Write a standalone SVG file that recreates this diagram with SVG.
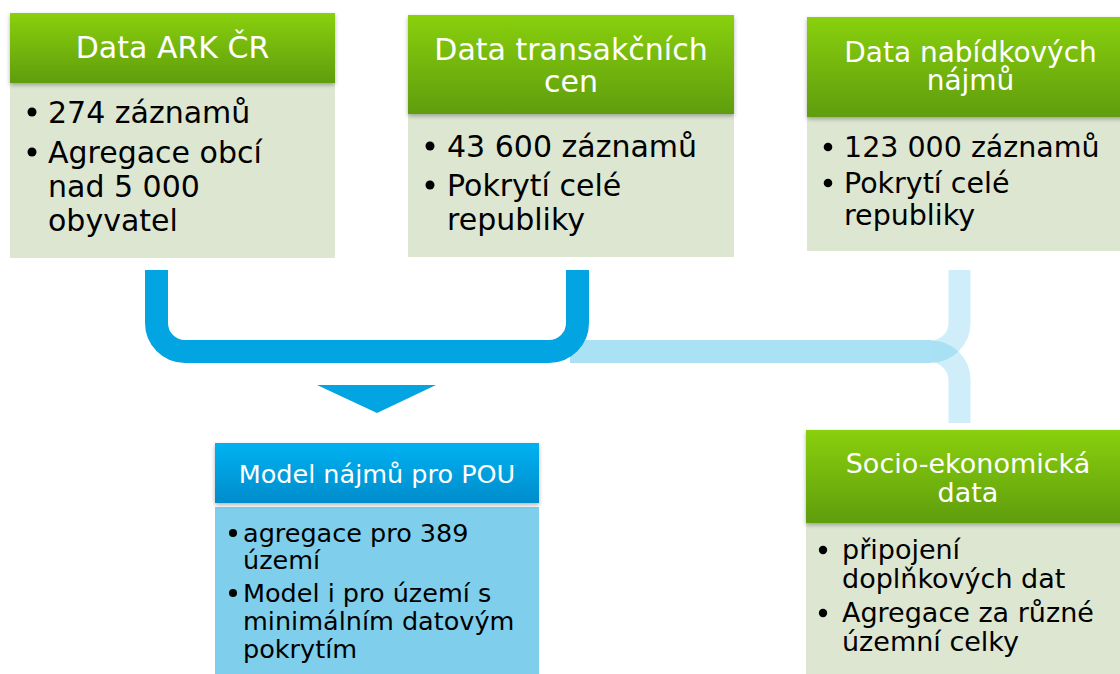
<svg xmlns="http://www.w3.org/2000/svg" width="1120" height="674" viewBox="0 0 1120 674">
<defs>
<linearGradient id="gGreen" x1="0" y1="0" x2="0" y2="1">
<stop offset="0" stop-color="#89d00d"/>
<stop offset="1" stop-color="#5f9d08"/>
</linearGradient>
<linearGradient id="gBlue" x1="0" y1="0" x2="0" y2="1">
<stop offset="0" stop-color="#00b2f2"/>
<stop offset="1" stop-color="#008ccb"/>
</linearGradient>
<filter id="sh" x="-5%" y="-10%" width="110%" height="130%">
<feDropShadow dx="0" dy="2" stdDeviation="2" flood-color="#000" flood-opacity="0.3"/>
</filter>
</defs>
<style>
.hg{fill:url(#gGreen);filter:url(#sh)}
.hb{fill:url(#gBlue);filter:url(#sh)}
.bg{fill:#dce6d1}
.bb{fill:#7fcfec}
.ht{font-family:"DejaVu Sans",Verdana,sans-serif;fill:#fff;text-anchor:middle}
.bt{font-family:"DejaVu Sans",Verdana,sans-serif;fill:#000}
.dot{fill:#000}
.dark{fill:none;stroke:#02a4e1;stroke-width:23}
.lh{fill:none;stroke:#00a3e0;stroke-opacity:0.33;stroke-width:23}
.lv{fill:none;stroke:#00a3e0;stroke-opacity:0.19;stroke-width:22}
</style>
<rect width="1120" height="674" fill="#fff"/>

<g id="connectors">
<path class="lh" d="M570,351.5 H931"/>
<path class="lv" d="M959.5,270 V323 A28.5,28.5 0 0 1 931,351.5"/>
<path class="lv" d="M931,351.5 A28.5,28.5 0 0 1 959.5,380 V423"/>
<path class="dark" d="M156.5,270 V323 A28.5,28.5 0 0 0 185,351.5 H549 A28.5,28.5 0 0 0 577.5,323 V270"/>
<polygon points="317,385 436,385 377,413" fill="#02a4e1"/>
</g>

<g id="node-ark">
<rect class="bg" x="10" y="83" width="325" height="175"/>
<rect class="hg" x="10" y="13" width="325" height="70"/>
<text class="ht" x="172.5" y="58" font-size="30">Data ARK ČR</text>
<circle class="dot" cx="32" cy="112" r="4.5"/>
<circle class="dot" cx="32" cy="152" r="4.5"/>
<text class="bt" font-size="30"><tspan x="48" y="123">274 záznamů</tspan><tspan x="48" y="163">Agregace obcí</tspan><tspan x="48" y="197">nad 5 000</tspan><tspan x="48" y="231">obyvatel</tspan></text>
</g>

<g id="node-transakcni">
<rect class="bg" x="408" y="114" width="326" height="143"/>
<rect class="hg" x="408" y="15" width="326" height="99"/>
<text class="ht" font-size="30"><tspan x="571" y="60">Data transakčních</tspan><tspan x="571" y="92">cen</tspan></text>
<circle class="dot" cx="430" cy="146" r="4.5"/>
<circle class="dot" cx="430" cy="185" r="4.5"/>
<text class="bt" font-size="30"><tspan x="447" y="157">43 600 záznamů</tspan><tspan x="447" y="196">Pokrytí celé</tspan><tspan x="447" y="230">republiky</tspan></text>
</g>

<g id="node-nabidkove">
<rect class="bg" x="807" y="117" width="326" height="134"/>
<rect class="hg" x="807" y="17" width="326" height="100"/>
<text class="ht" font-size="28"><tspan x="970.5" y="62">Data nabídkových</tspan><tspan x="970.5" y="90">nájmů</tspan></text>
<circle class="dot" cx="828" cy="147" r="4.3"/>
<circle class="dot" cx="828" cy="183" r="4.3"/>
<text class="bt" font-size="28.5"><tspan x="844" y="157">123 000 záznamů</tspan><tspan x="844" y="193">Pokrytí celé</tspan><tspan x="844" y="225">republiky</tspan></text>
</g>

<g id="node-model">
<rect class="bb" x="215" y="507" width="324" height="170"/>
<rect class="hb" x="215" y="443" width="324" height="60"/>
<text class="ht" x="377" y="483" font-size="25.5">Model nájmů pro POU</text>
<circle class="dot" cx="233" cy="533" r="4"/>
<circle class="dot" cx="233" cy="593" r="4"/>
<text class="bt" font-size="25.5"><tspan x="243" y="542">agregace pro 389</tspan><tspan x="243" y="569">území</tspan><tspan x="243" y="602">Model i pro území s</tspan><tspan x="243" y="630">minimálním datovým</tspan><tspan x="243" y="658">pokrytím</tspan></text>
</g>

<g id="node-socio">
<rect class="bg" x="806" y="523" width="326" height="154"/>
<rect class="hg" x="806" y="430" width="326" height="93"/>
<text class="ht" font-size="27"><tspan x="968" y="473">Socio-ekonomická</tspan><tspan x="968" y="502">data</tspan></text>
<circle class="dot" cx="823" cy="550" r="4.2"/>
<circle class="dot" cx="823" cy="613" r="4.2"/>
<text class="bt" font-size="27"><tspan x="842" y="559">připojení</tspan><tspan x="842" y="588">doplňkových dat</tspan><tspan x="842" y="622">Agregace za různé</tspan><tspan x="842" y="651">územní celky</tspan></text>
</g>
</svg>
